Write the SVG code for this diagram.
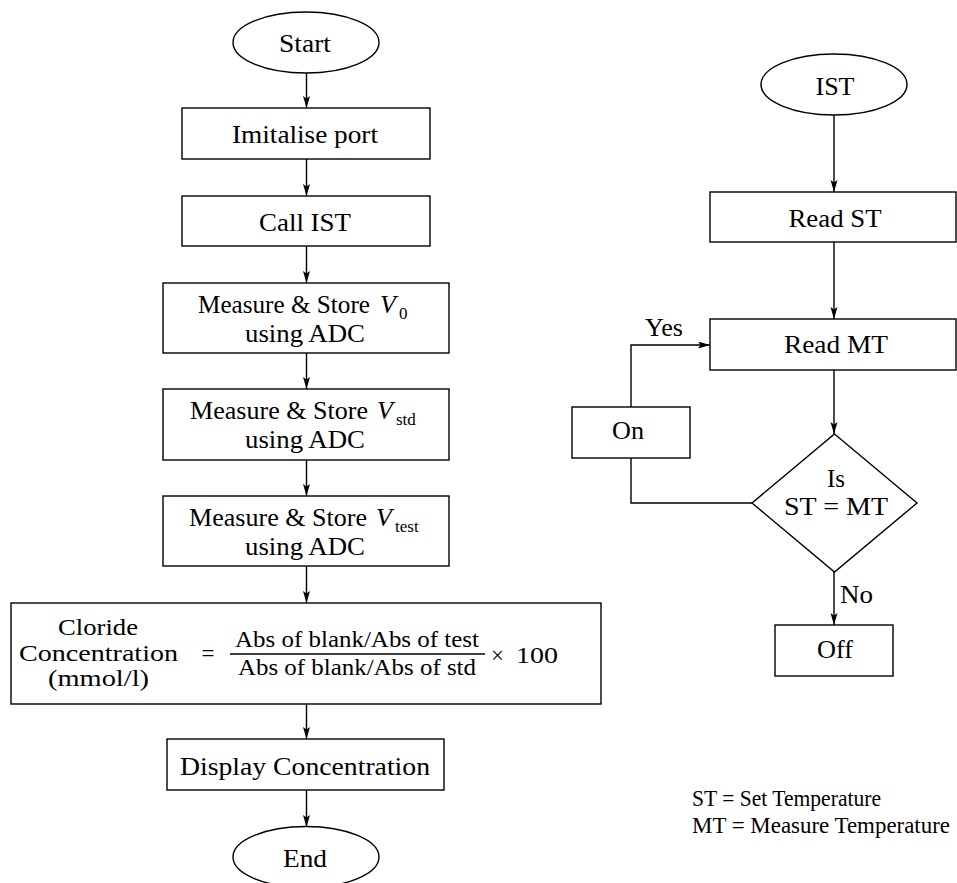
<svg xmlns="http://www.w3.org/2000/svg" width="957" height="883" viewBox="0 0 957 883">
<defs>
<marker id="arr" markerUnits="userSpaceOnUse" markerWidth="13" markerHeight="8" refX="12" refY="3.5" orient="auto">
<path d="M0,0 L12,3.5 L0,7 L2.5,3.5 z" fill="#000"/>
</marker>
<style>
.s{fill:#fff;stroke:#000;stroke-width:1.4}
.c{fill:none;stroke:#000;stroke-width:1.4}
.a{marker-end:url(#arr)}
text{font-family:"Liberation Serif","Times New Roman",serif;font-size:26px;fill:#000}
.m{text-anchor:middle}
.f{font-size:23px}
.lg{font-size:22.5px}
.sub{font-size:17px}
.i{font-style:italic}
</style>
</defs>
<rect width="957" height="883" fill="#fff"/>
<g id="connectors">
<line class="c a" x1="306.5" y1="73" x2="306.5" y2="108"/>
<line class="c a" x1="306.5" y1="159" x2="306.5" y2="196"/>
<line class="c a" x1="306.5" y1="246" x2="306.5" y2="283"/>
<line class="c a" x1="306.5" y1="353" x2="306.5" y2="389"/>
<line class="c a" x1="306.5" y1="460" x2="306.5" y2="496"/>
<line class="c a" x1="306.5" y1="566" x2="306.5" y2="603"/>
<line class="c a" x1="306.5" y1="704" x2="306.5" y2="739"/>
<line class="c a" x1="306.5" y1="790" x2="306.5" y2="827"/>
<line class="c a" x1="834" y1="115" x2="834" y2="192"/>
<line class="c a" x1="834" y1="242" x2="834" y2="319"/>
<line class="c a" x1="834" y1="370" x2="834" y2="434"/>
<line class="c a" x1="834" y1="572" x2="834" y2="625"/>
<polyline class="c" points="752,503 631,503 631,458"/>
<polyline class="c a" points="631,407 631,345 710,345"/>
<text x="645" y="336" textLength="38" lengthAdjust="spacingAndGlyphs">Yes</text>
<text x="840" y="603" textLength="33" lengthAdjust="spacingAndGlyphs">No</text>
</g>
<g id="start">
<ellipse class="s" cx="306" cy="42.5" rx="73" ry="30.5"/>
<text class="m" x="305" y="52" textLength="52" lengthAdjust="spacingAndGlyphs">Start</text>
</g>
<g id="init">
<rect class="s" x="182" y="108" width="248" height="51"/>
<text class="m" x="305" y="143" textLength="146" lengthAdjust="spacingAndGlyphs">Imitalise port</text>
</g>
<g id="callist">
<rect class="s" x="182" y="196" width="248" height="50"/>
<text class="m" x="305" y="231" textLength="92" lengthAdjust="spacingAndGlyphs">Call IST</text>
</g>
<g id="v0">
<rect class="s" x="163" y="283" width="286" height="70"/>
<text x="198" y="313"><tspan textLength="172" lengthAdjust="spacingAndGlyphs">Measure &amp; Store</tspan><tspan x="380" class="i">V</tspan><tspan x="399" dy="6" class="sub">0</tspan></text>
<text class="m" x="305" y="342" textLength="120" lengthAdjust="spacingAndGlyphs">using ADC</text>
</g>
<g id="vstd">
<rect class="s" x="163" y="389" width="286" height="71"/>
<text x="190" y="419"><tspan textLength="178" lengthAdjust="spacingAndGlyphs">Measure &amp; Store</tspan><tspan x="377" class="i">V</tspan><tspan x="396" dy="6" class="sub">std</tspan></text>
<text class="m" x="305" y="448" textLength="120" lengthAdjust="spacingAndGlyphs">using ADC</text>
</g>
<g id="vtest">
<rect class="s" x="163" y="496" width="286" height="70"/>
<text x="189" y="526"><tspan textLength="178" lengthAdjust="spacingAndGlyphs">Measure &amp; Store</tspan><tspan x="376" class="i">V</tspan><tspan x="395" dy="6" class="sub">test</tspan></text>
<text class="m" x="305" y="555" textLength="120" lengthAdjust="spacingAndGlyphs">using ADC</text>
</g>
<g id="formula">
<rect class="s" x="11" y="603" width="590" height="101"/>
<text class="m f" x="98" y="635" textLength="80" lengthAdjust="spacingAndGlyphs">Cloride</text>
<text class="m f" x="98.5" y="661" textLength="159" lengthAdjust="spacingAndGlyphs">Concentration</text>
<text class="m f" x="98.5" y="686" textLength="101" lengthAdjust="spacingAndGlyphs">(mmol/l)</text>
<text class="m f" x="208" y="661">=</text>
<text class="f" x="235" y="647" textLength="244" lengthAdjust="spacingAndGlyphs">Abs of blank/Abs of test</text>
<line x1="230" y1="654" x2="485" y2="654" stroke="#000" stroke-width="1.4"/>
<text class="f" x="238" y="675" textLength="238" lengthAdjust="spacingAndGlyphs">Abs of blank/Abs of std</text>
<text class="f" x="491" y="663">×</text>
<text class="f" x="516" y="663" textLength="42" lengthAdjust="spacingAndGlyphs">100</text>
</g>
<g id="display">
<rect class="s" x="167" y="739" width="277" height="51"/>
<text class="m" x="305" y="775" textLength="250" lengthAdjust="spacingAndGlyphs">Display Concentration</text>
</g>
<g id="end">
<ellipse class="s" cx="306" cy="857" rx="73" ry="30.5"/>
<text class="m" x="305" y="867" textLength="44" lengthAdjust="spacingAndGlyphs">End</text>
</g>
<g id="ist">
<ellipse class="s" cx="834" cy="84.5" rx="73" ry="30.5"/>
<text class="m" x="835" y="95" textLength="39" lengthAdjust="spacingAndGlyphs">IST</text>
</g>
<g id="readst">
<rect class="s" x="710" y="192" width="246" height="50"/>
<text class="m" x="835" y="227" textLength="93" lengthAdjust="spacingAndGlyphs">Read ST</text>
</g>
<g id="readmt">
<rect class="s" x="710" y="319" width="246" height="51"/>
<text class="m" x="836" y="353" textLength="104" lengthAdjust="spacingAndGlyphs">Read MT</text>
</g>
<g id="on">
<rect class="s" x="572" y="407" width="118" height="51"/>
<text class="m" x="628" y="439" textLength="32" lengthAdjust="spacingAndGlyphs">On</text>
</g>
<g id="decision">
<polygon class="s" points="834.5,434 917,503 834.5,572 752,503"/>
<text class="m" x="836" y="487" textLength="18" lengthAdjust="spacingAndGlyphs">Is</text>
<text class="m" x="836" y="515" textLength="104" lengthAdjust="spacingAndGlyphs">ST = MT</text>
</g>
<g id="off">
<rect class="s" x="775" y="625" width="118" height="51"/>
<text class="m" x="835" y="658" textLength="36" lengthAdjust="spacingAndGlyphs">Off</text>
</g>
<g id="legend">
<text class="lg" x="692" y="806" textLength="189" lengthAdjust="spacingAndGlyphs">ST = Set Temperature</text>
<text class="lg" x="692" y="833" textLength="258" lengthAdjust="spacingAndGlyphs">MT = Measure Temperature</text>
</g>
</svg>
